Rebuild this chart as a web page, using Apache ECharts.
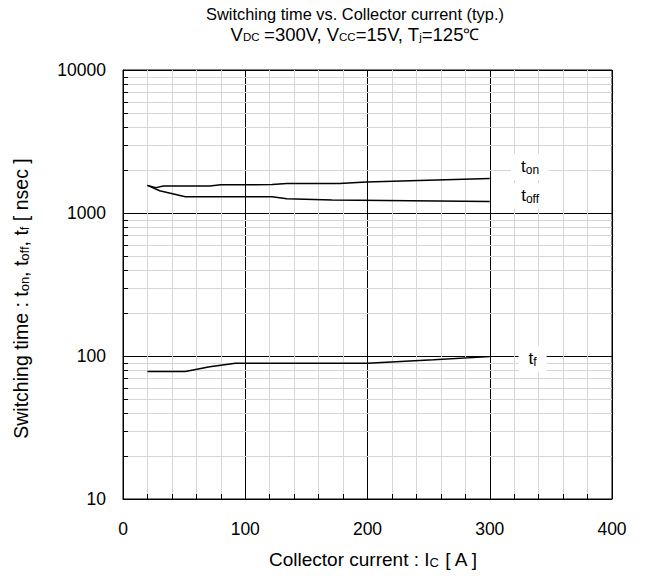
<!DOCTYPE html>
<html><head><meta charset="utf-8">
<script src="https://cdn.jsdelivr.net/npm/echarts@6/dist/echarts.min.js"></script>
<style>html,body{margin:0;padding:0;background:#fff}#c{width:646px;height:579px}</style>
</head><body><div id="c"></div>
<script>
var tonX = [20, 27, 33, 71, 80, 122, 134, 177, 199, 300];
var tonY = [1560, 1505, 1545, 1545, 1575, 1580, 1607, 1610, 1650, 1740];
var toffX = [20, 30, 51, 122, 134, 171, 300];
var toffY = [1560, 1430, 1300, 1300, 1260, 1235, 1205];
var tfX = [20, 51, 71, 92, 200, 254, 300];
var tfY = [78, 78, 84, 89, 89, 94, 99];
var yMinorTicks = [20,30,40,50,60,70,80,90,200,300,400,500,600,700,800,900,2000,3000,4000,5000,6000,7000,8000,9000];
var labelPos = {ton: [333, 2099], toff: [333, 1320], tf: [335, 96]};

function pairs(xs, ys){ return xs.map(function(x,i){return [x, ys[i]];}); }
var FONT = 'Liberation Sans';
var tRich = {
  t: {fontSize: 17, fontFamily: FONT, color: '#000'},
  s: {fontSize: 12, fontFamily: FONT, color: '#000', verticalAlign: 'bottom', padding: [6,0,0,0]}
};
function lbl(pos, sub){
  return {
    symbol: 'rect', symbolSize: 0, silent: true,
    data: [{coord: pos}],
    label: {show: true, position: 'inside', formatter: '{t|t}{s|' + sub + '}', rich: tRich,
      fontSize: 17, fontFamily: FONT, color: '#000',
      backgroundColor: '#fff', padding: [4, 10, 4, 10]}
  };
}
var nameRich = {a: {fontSize: 19, fontFamily: FONT, color: '#000'}, b: {fontSize: 13, fontFamily: FONT, color: '#000', padding: [6,0,0,0]}};
var chart = echarts.init(document.getElementById('c'), null, {renderer: 'svg'});
chart.setOption({
  animation: false,
  backgroundColor: '#fff',
  title: {
    left: 355, top: 3, padding: 0, textAlign: 'center',
    text: 'Switching time vs. Collector current (typ.)\n{a|V}{b|DC} {a|=300V, V}{b|CC}{a|=15V, T}{b|j}{a|=125}{c|℃}',
    textStyle: {fontSize: 16.4, fontWeight: 'normal', fontFamily: FONT, color: '#000', lineHeight: 21,
      rich: {
        a: {fontSize: 18.5, fontFamily: FONT, color: '#000', lineHeight: 21},
        b: {fontSize: 11.5, fontFamily: FONT, color: '#000', padding: [5,0,0,0], lineHeight: 21},
        c: {fontSize: 16, fontFamily: FONT, color: '#000', lineHeight: 21}
      }}
  },
  grid: {left: 123, right: 34, top: 70, bottom: 80, show: true, borderColor: '#000', borderWidth: 1, backgroundColor: 'transparent'},
  xAxis: {
    type: 'value', min: 0, max: 400, interval: 100,
    name: '{a|Collector current : I}{b|C}{a| [ A ]}', nameLocation: 'middle', nameGap: 51,
    nameTextStyle: {fontSize: 19, fontFamily: FONT, color: '#000', rich: nameRich, padding: [0, 0, 0, 12]},
    axisLine: {lineStyle: {color: '#000'}},
    axisTick: {inside: true, length: 5, lineStyle: {color: '#000'}},
    minorTick: {show: true, splitNumber: 5, length: 5, lineStyle: {color: '#000'}},
    axisLabel: {fontSize: 17.5, fontFamily: FONT, color: '#000', margin: 21, formatter: function(v){return String(v);}},
    splitLine: {show: true, lineStyle: {color: '#000', width: 1}},
    minorSplitLine: {show: true, lineStyle: {color: '#d6d6d6', width: 1}}
  },
  yAxis: {
    type: 'log', logBase: 10, min: 10, max: 10000,
    name: '{a|Switching time : t}{b|on}{a|, t}{b|off}{a|, t}{b|f}{a| [ nsec ]}', nameLocation: 'middle', nameGap: 92,
    nameTextStyle: {fontSize: 19.5, fontFamily: FONT, color: '#000', rich: {a: {fontSize: 19.5, fontFamily: FONT, color: '#000'}, b: {fontSize: 13, fontFamily: FONT, color: '#000', padding: [6,0,0,0]}}, padding: [0, 28, 0, 0]},
    axisLine: {lineStyle: {color: '#000'}},
    axisTick: {inside: true, length: 6, lineStyle: {color: '#000'}},
    axisLabel: {fontSize: 17.5, fontFamily: FONT, color: '#000', margin: 17, formatter: function(v){return String(Math.round(v));}},
    splitLine: {show: true, lineStyle: {color: '#000', width: 1}}
  },
  series: [
    {
      type: 'custom', silent: true, z: 1,
      data: yMinorTicks.map(function(v){return [0, v];}),
      renderItem: function(params, api){
        var v = api.value(1);
        var p0 = api.coord([0, v]);
        var p1 = api.coord([400, v]);
        var y = Math.round(p0[1]) + 0.5;
        return {type: 'group', children: [
          {type: 'line', shape: {x1: p0[0], y1: y, x2: p1[0], y2: y}, style: {stroke: '#d6d6d6', lineWidth: 1}},
          {type: 'line', shape: {x1: p0[0], y1: y, x2: p0[0] + 5, y2: y}, style: {stroke: '#000', lineWidth: 1}}
        ]};
      }
    },
    {name: 'ton', type: 'line', data: pairs(tonX, tonY), symbol: 'none', z: 3,
      lineStyle: {color: '#000', width: 1.5}, markPoint: lbl(labelPos.ton, 'on')},
    {name: 'toff', type: 'line', data: pairs(toffX, toffY), symbol: 'none', z: 3,
      lineStyle: {color: '#000', width: 1.5}, markPoint: lbl(labelPos.toff, 'off')},
    {name: 'tf', type: 'line', data: pairs(tfX, tfY), symbol: 'none', z: 3,
      lineStyle: {color: '#000', width: 1.5}, markPoint: lbl(labelPos.tf, 'f')}
  ]
});
</script></body></html>
